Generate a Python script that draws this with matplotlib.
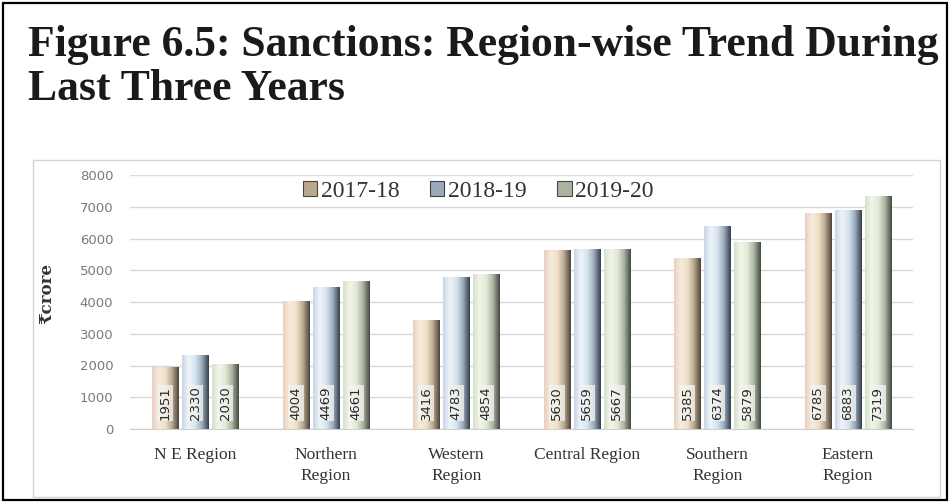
import numpy as np
import matplotlib
matplotlib.use("Agg")
import matplotlib.pyplot as plt
from matplotlib.colors import LinearSegmentedColormap
from matplotlib.patches import Rectangle

regions = ["N E Region", "Northern\nRegion", "Western\nRegion",
           "Central Region", "Southern\nRegion", "Eastern\nRegion"]
years = ["2017-18", "2018-19", "2019-20"]
sanctions = {
    "2017-18": [1951, 4004, 3416, 5630, 5385, 6785],
    "2018-19": [2330, 4469, 4783, 5659, 6374, 6883],
    "2019-20": [2030, 4661, 4854, 5667, 5879, 7319],
}
y_ticks = [0, 1000, 2000, 3000, 4000, 5000, 6000, 7000, 8000]

# cylinder-like shading for each series: light face fading to a dark rim
shades = {
    "2017-18": ["#e9cfc0", "#f6ecdc", "#efe0c8", "#b8a890", "#4e4438"],
    "2018-19": ["#c9d6e6", "#eef4fa", "#d6e4ee", "#9aaabb", "#36414d"],
    "2019-20": ["#d5e2cc", "#f2f6ea", "#e2e9d6", "#a9b3a0", "#444a42"],
}
cmaps = {k: LinearSegmentedColormap.from_list(k, v) for k, v in shades.items()}

fig = plt.figure(figsize=(9.5, 5.03), dpi=100)
W, H = 950, 503

# outer frame and chart box
fig.add_artist(Rectangle((3 / W, 3 / H), 944 / W, 497 / H, transform=fig.transFigure,
                         fill=False, edgecolor="black", linewidth=1.6))
fig.add_artist(Rectangle((33 / W, 6 / H), 907 / W, 337 / H, transform=fig.transFigure,
                         fill=False, edgecolor="#d4d4d4", linewidth=1.0))

title_font = dict(family="Liberation Serif", weight="bold", size=31.4, color="#1a1a1a")
fig.text(28 / W, 1 - 45 / H, "Figure 6.5: Sanctions: Region-wise Trend During",
         va="center", ha="left", **title_font)
fig.text(28 / W, 1 - 89 / H, "Last Three Years", va="center", ha="left", **title_font)

ax = fig.add_axes([130 / W, 1 - 429 / H, 783 / W, 254 / H])
ax.set_xlim(-0.5, len(regions) - 0.5)
ax.set_ylim(0, 8000)

x = np.arange(len(regions))
bw = 0.2
gap = 0.03
grad = np.linspace(0, 1, 64).reshape(1, -1)

for i, yr in enumerate(years):
    offs = (i - 1) * (bw + gap)
    bars = ax.bar(x + offs, sanctions[yr], width=bw, color=shades[yr][2],
                  edgecolor="none", zorder=2, label=yr)
    for rect, val in zip(bars, sanctions[yr]):
        x0 = rect.get_x()
        ax.imshow(grad, cmap=cmaps[yr], aspect="auto", zorder=3,
                  extent=(x0, x0 + bw, 0, rect.get_height()), interpolation="bilinear")
        ax.text(x0 + bw / 2, 820, str(val), rotation=90, ha="center", va="center",
                fontsize=9.5, color="#2a2a2a", family="DejaVu Sans", zorder=4,
                bbox=dict(boxstyle="square,pad=0.1", fc="#f4f4f0", ec="none", alpha=0.75))

ax.set_yticks(y_ticks)
ax.set_yticklabels([str(v) for v in y_ticks], color="#7a7a7a", fontsize=9.5,
                   family="DejaVu Sans")
ax.set_xticks(x)
ax.set_xticklabels(regions, family="Liberation Serif", fontsize=12.5, color="#333333",
                   linespacing=1.4)
ax.tick_params(length=0)
ax.tick_params(axis="y", pad=12)
ax.tick_params(axis="x", pad=13)
ax.grid(axis="y", color="#d9d9d9", linewidth=1.0, zorder=0)
ax.set_axisbelow(True)
for s in ["top", "right", "left"]:
    ax.spines[s].set_visible(False)
ax.spines["bottom"].set_color("#d0d0d0")

ax.set_ylabel("₹crore", family=["DejaVu Serif"], fontsize=12,
              weight="bold", color="#333333")
ax.yaxis.set_label_coords(-0.095, 0.535)

# legend with small shaded swatches
handles = [Rectangle((0, 0), 1, 1, facecolor=shades[yr][3], edgecolor=shades[yr][4],
                     linewidth=0.8) for yr in years]
ax.legend(handles, years, loc="upper center", bbox_to_anchor=(0.445, 1.06), ncol=3,
          frameon=False, prop=dict(family="Liberation Serif", size=17),
          handlelength=0.6, handleheight=0.6, handletextpad=0.15, columnspacing=1.3,
          labelcolor="#333333")

fig.savefig("out.png", dpi=100)
